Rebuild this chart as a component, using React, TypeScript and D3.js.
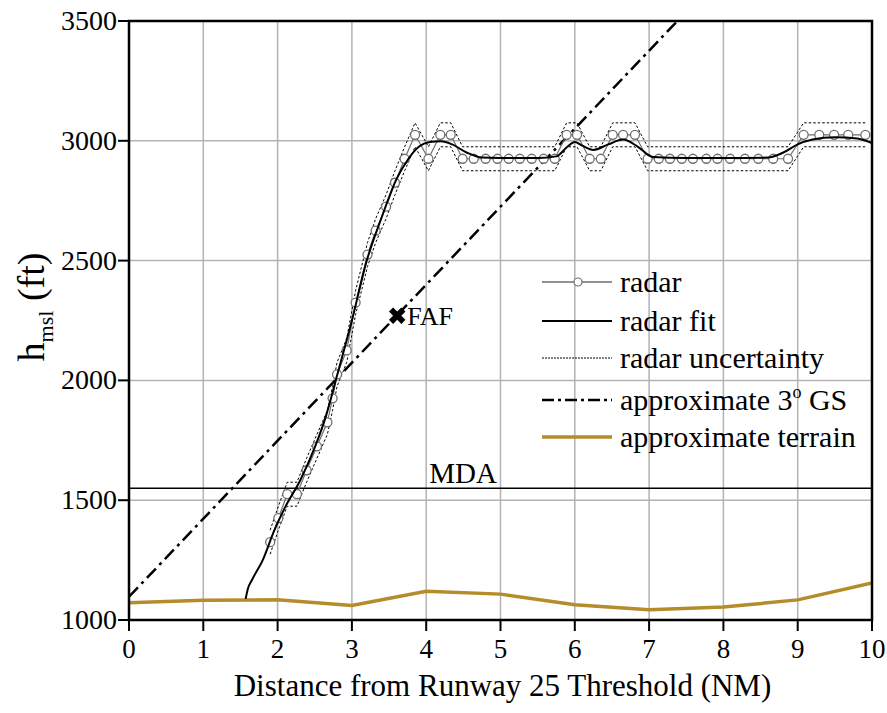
import React, { useEffect, useRef } from 'react'
import * as d3 from 'd3'

// radar returns (NM from threshold, ft msl)
const radarDist = [1.90, 2.01, 2.13, 2.26, 2.39, 2.53, 2.67, 2.74, 2.80, 2.93, 3.05, 3.21, 3.32, 3.46, 3.58, 3.71, 3.85,
    4.03, 4.19, 4.33, 4.49, 4.64, 4.80, 4.96, 5.11, 5.26, 5.42, 5.58, 5.73, 5.89, 6.03, 6.20, 6.35, 6.51, 6.65, 6.81,
    6.98, 7.13, 7.28, 7.44, 7.59, 7.77, 7.92, 8.09, 8.29, 8.47, 8.67, 8.87, 9.08, 9.29, 9.49, 9.68, 9.91]
const radarAlt = [1325, 1425, 1525, 1525, 1625, 1725, 1825, 1925, 2025, 2125, 2325, 2525, 2625, 2725, 2825, 2925, 3025,
    2925, 3025, 3025, 2925, 2925, 2925, 2925, 2925, 2925, 2925, 2925, 2925, 3025, 3025, 2925, 2925, 3025, 3025, 3025,
    2925, 2925, 2925, 2925, 2925, 2925, 2925, 2925, 2925, 2925, 2925, 2925, 3025, 3025, 3025, 3025, 3025]
const radarUncertainty = 50

const fitDist = [1.57, 1.60, 1.66, 1.80, 1.95, 2.10, 2.30, 2.50, 2.65, 2.80, 3.00, 3.20, 3.40, 3.60, 3.75, 3.90, 4.05,
    4.20, 4.35, 4.55, 4.75, 5.00, 5.50, 5.75, 5.90, 6.00, 6.10, 6.25, 6.45, 6.65, 6.85, 7.05, 7.50, 8.00, 8.60, 8.80,
    9.00, 9.20, 9.50, 9.80, 10.0]
const fitAlt = [1088, 1130, 1170, 1250, 1370, 1470, 1580, 1720, 1850, 2020, 2250, 2500, 2680, 2840, 2920, 2975, 2995,
    2998, 2985, 2950, 2930, 2928, 2928, 2935, 2975, 2995, 2980, 2962, 2985, 3005, 2975, 2932, 2928, 2928, 2930, 2950,
    2985, 3005, 3015, 3010, 2990]

const gsDist = [0, 10]
const gsAlt = [1097, 4353]

const terrainDist = [0, 1, 2, 3, 4, 5, 6, 7, 8, 9, 10]
const terrainAlt = [1072, 1082, 1084, 1061, 1120, 1108, 1064, 1043, 1054, 1084, 1155]

const mda = 1550
const faf = [3.61, 2270]

const xTicks = [0, 1, 2, 3, 4, 5, 6, 7, 8, 9, 10]
const yTicks = [1000, 1500, 2000, 2500, 3000, 3500]

const legendItems = ['radar', 'radar fit', 'radar uncertainty', 'approximate 3', 'approximate terrain']

const FONT = 'Liberation Serif'
const TERRAIN = '#b58c2a'
const RADAR = '#6e6e6e'

function App() {
    const ref = useRef<HTMLDivElement>(null)

    const buildChart = () => {
        const W = 887, H = 713
        const margin = { top: 21, right: 15, bottom: 93, left: 129 }
        const width = W - margin.left - margin.right
        const height = H - margin.top - margin.bottom

        const svg = d3.create('svg')
            .attr('width', W)
            .attr('height', H)
            .attr('font-family', FONT)
            .style('display', 'block')
            .style('background', '#fff')

        const x = d3.scaleLinear().domain([0, 10]).range([0, width])
        const y = d3.scaleLinear().domain([1000, 3500]).range([height, 0])

        svg.append('defs').append('clipPath').attr('id', 'plot-clip')
            .append('rect').attr('width', width).attr('height', height)

        const g = svg.append('g').attr('transform', `translate(${margin.left},${margin.top})`)

        // grid
        g.selectAll('.x-grid').data(xTicks.slice(1, -1)).join('line')
            .attr('x1', d => x(d)).attr('x2', d => x(d)).attr('y1', 0).attr('y2', height)
            .style('stroke', '#b3b3b3').style('stroke-width', 1.5)
        g.selectAll('.y-grid').data(yTicks.slice(1, -1)).join('line')
            .attr('y1', d => y(d)).attr('y2', d => y(d)).attr('x1', 0).attr('x2', width)
            .style('stroke', '#b3b3b3').style('stroke-width', 1.5)

        const plot = g.append('g').attr('clip-path', 'url(#plot-clip)')

        // terrain
        plot.append('path')
            .attr('d', d3.line<number>().x(i => x(terrainDist[i])).y(i => y(terrainAlt[i]))(d3.range(terrainDist.length)))
            .style('fill', 'none').style('stroke', TERRAIN).style('stroke-width', 3.5)

        // MDA
        plot.append('line')
            .attr('x1', 0).attr('x2', width).attr('y1', y(mda)).attr('y2', y(mda))
            .style('stroke', '#000').style('stroke-width', 1.5)

        // glide slope
        plot.append('path')
            .attr('d', d3.line<number>().x(i => x(gsDist[i])).y(i => y(gsAlt[i]))([0, 1]))
            .style('fill', 'none').style('stroke', '#000').style('stroke-width', 2.5)
            .style('stroke-dasharray', '13,5,3,5')

        // uncertainty band
        const idx = d3.range(radarDist.length)
        for (const sgn of [1, -1]) {
            plot.append('path')
                .attr('d', d3.line<number>().x(i => x(radarDist[i])).y(i => y(radarAlt[i] + sgn * radarUncertainty))(idx))
                .style('fill', 'none').style('stroke', '#000').style('stroke-width', 1)
                .style('stroke-dasharray', '2.5,2')
        }

        // radar line + markers
        plot.append('path')
            .attr('d', d3.line<number>().x(i => x(radarDist[i])).y(i => y(radarAlt[i]))(idx))
            .style('fill', 'none').style('stroke', RADAR).style('stroke-width', 1.2)
        plot.selectAll('.radar-pt').data(idx).join('circle')
            .attr('cx', i => x(radarDist[i])).attr('cy', i => y(radarAlt[i])).attr('r', 4.5)
            .style('fill', '#fff').style('stroke', RADAR).style('stroke-width', 1.3)

        // radar fit
        plot.append('path')
            .attr('d', d3.line<number>().curve(d3.curveMonotoneX)
                .x(i => x(fitDist[i])).y(i => y(fitAlt[i]))(d3.range(fitDist.length)))
            .style('fill', 'none').style('stroke', '#000').style('stroke-width', 2)

        // FAF marker
        g.append('path')
            .attr('d', d3.symbol(d3.symbolCross, 170)())
            .attr('transform', `translate(${x(faf[0])},${y(faf[1])}) rotate(45)`)
            .style('fill', '#000')
        g.append('text')
            .attr('x', x(faf[0]) + 10).attr('y', y(faf[1]) + 9)
            .style('font-size', '26px')
            .text('FAF')

        g.append('text')
            .attr('x', x(4.04)).attr('y', y(mda) - 5)
            .style('font-size', '29px')
            .text('MDA')

        // frame + axes
        g.append('rect').attr('width', width).attr('height', height)
            .style('fill', 'none').style('stroke', '#000').style('stroke-width', 2.5)

        const xAxis = g.append('g').attr('transform', `translate(0,${height})`)
        xAxis.selectAll('line').data(xTicks).join('line')
            .attr('x1', d => x(d)).attr('x2', d => x(d)).attr('y1', 0).attr('y2', 11)
            .style('stroke', '#000').style('stroke-width', 2)
        xAxis.selectAll('text').data(xTicks).join('text')
            .attr('x', d => x(d)).attr('y', 38)
            .attr('text-anchor', 'middle')
            .style('font-size', '27px')
            .text(d => d)

        const yAxis = g.append('g')
        yAxis.selectAll('line').data(yTicks).join('line')
            .attr('y1', d => y(d)).attr('y2', d => y(d)).attr('x1', -11).attr('x2', 0)
            .style('stroke', '#000').style('stroke-width', 2)
        yAxis.selectAll('text').data(yTicks).join('text')
            .attr('x', -12).attr('y', d => y(d) + 9)
            .attr('text-anchor', 'end')
            .style('font-size', '28px')
            .text(d => d)

        svg.append('text')
            .attr('x', margin.left + width / 2 + 2).attr('y', 696)
            .attr('text-anchor', 'middle')
            .style('font-size', '31px')
            .text('Distance from Runway 25 Threshold (NM)')

        const yt = svg.append('text')
            .attr('transform', `translate(44,${307}) rotate(-90)`)
            .attr('text-anchor', 'middle')
            .style('font-size', '38px')
        yt.append('tspan').text('h')
        yt.append('tspan').attr('dy', 9).style('font-size', '22px').text('msl')
        yt.append('tspan').attr('dy', -9).text(' (ft)')

        // legend
        const lg = svg.append('g').attr('transform', 'translate(542,0)')
        const rows = [282, 321, 358, 400, 437]
        rows.forEach((ry, i) => {
            const ln = lg.append('line').attr('x1', 0).attr('x2', 70).attr('y1', ry).attr('y2', ry)
            if (i === 0) ln.style('stroke', RADAR).style('stroke-width', 1.5)
            if (i === 1) ln.style('stroke', '#000').style('stroke-width', 2)
            if (i === 2) ln.style('stroke', '#000').style('stroke-width', 1).style('stroke-dasharray', '2,1')
            if (i === 3) ln.style('stroke', '#000').style('stroke-width', 2.5).style('stroke-dasharray', '12,4,3,4')
            if (i === 4) ln.style('stroke', TERRAIN).style('stroke-width', 3.5)
            if (i === 0) {
                lg.append('circle').attr('cx', 36).attr('cy', ry).attr('r', 4)
                    .style('fill', '#fff').style('stroke', RADAR).style('stroke-width', 1.2)
            }
            const t = lg.append('text').attr('x', 78).attr('y', ry + 10).style('font-size', '30px')
            t.append('tspan').text(legendItems[i])
            if (i === 3) {
                t.append('tspan').attr('dy', -12).style('font-size', '18px').text('o')
                t.append('tspan').attr('dy', 12).text(' GS')
            }
        })

        return svg.node()
    }

    useEffect(() => {
        if (!ref.current) return
        ref.current.innerHTML = ''
        ref.current.append(buildChart() as SVGSVGElement)
    }, [])

    return <div ref={ref} style={{ position: 'absolute', left: 0, top: 0, width: 887, height: 713 }}></div>
}

export default App
